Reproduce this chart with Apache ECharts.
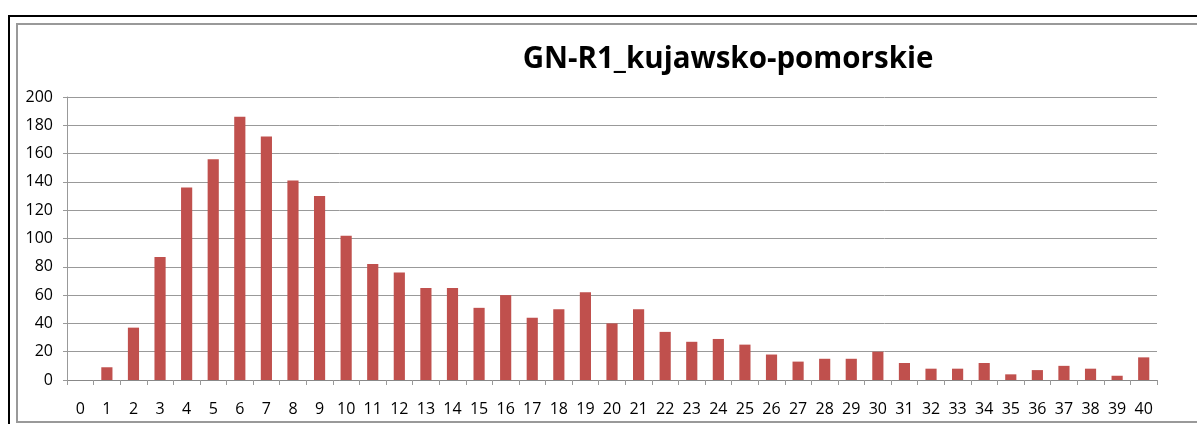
<!DOCTYPE html>
<html><head><meta charset="utf-8">
<script src="https://cdn.jsdelivr.net/npm/echarts@6/dist/echarts.min.js"></script>
<style>
html,body{margin:0;padding:0;background:#fff;overflow:hidden;}
#outer{position:absolute;left:8px;top:15px;width:1200px;height:430px;border:2px solid #000;box-sizing:border-box;}
#inner{position:absolute;left:16px;top:23px;width:1200px;height:400px;border-left:2px solid #999;border-top:2px solid #999;border-bottom:2px solid #999;box-sizing:border-box;}
#chart{position:absolute;left:0;top:0;width:1197px;height:424px;}
</style></head>
<body>
<div id="outer"></div><div id="inner"></div>
<div id="chart"></div>
<script>
const title = "GN-R1_kujawsko-pomorskie";
const categories = ["0","1","2","3","4","5","6","7","8","9","10","11","12","13","14","15","16","17","18","19","20","21","22","23","24","25","26","27","28","29","30","31","32","33","34","35","36","37","38","39","40"];
const values = [0,9,37,87,136,156,186,172,141,130,102,82,76,65,65,51,60,44,50,62,40,50,34,27,29,25,18,13,15,15,20,12,8,8,12,4,7,10,8,3,16];
const yTicks = {min:0, max:200, interval:20};

const chart = echarts.init(document.getElementById('chart'));
const font = '"Open Sans", "Noto Sans", sans-serif';
chart.setOption({
  animation:false,
  title:{text:title, left:723, top:40, textAlign:'center',
    textStyle:{fontFamily:font, fontWeight:'bold', fontSize:29.5, color:'#000'}},
  grid:{left:67, right:40, top:97, bottom:44},
  xAxis:{type:'category', data:categories, boundaryGap:true,
    axisLine:{lineStyle:{color:'#888', width:1}},
    axisTick:{show:true, alignWithLabel:false, length:5, lineStyle:{color:'#999'}},
    axisLabel:{color:'#000', fontFamily:font, fontSize:16, margin:21, interval:0}},
  yAxis:{type:'value', min:yTicks.min, max:yTicks.max, interval:yTicks.interval,
    axisLine:{show:true, lineStyle:{color:'#999'}},
    axisTick:{show:true, length:4, lineStyle:{color:'#999'}},
    axisLabel:{color:'#000', fontFamily:font, fontSize:16, margin:14},
    splitLine:{lineStyle:{color:'#999', width:1}}},
  series:[{type:'bar', data:values, barWidth:'42%', itemStyle:{color:'#C0504D'}}]
});
</script>
</body></html>
